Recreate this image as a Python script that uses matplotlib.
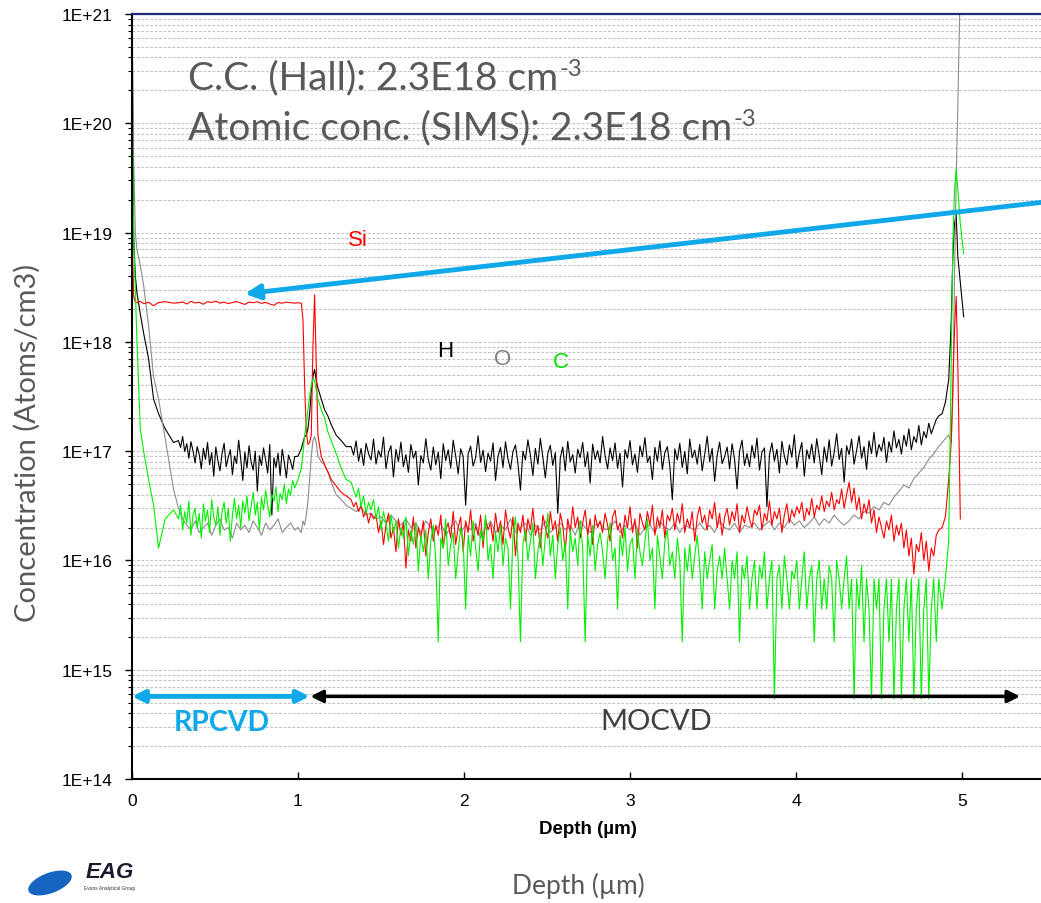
import numpy as np
import matplotlib
matplotlib.use("Agg")
import matplotlib.pyplot as plt
from matplotlib.ticker import FuncFormatter, LogLocator, NullFormatter
from matplotlib.patches import Ellipse

# ------------------------------------------------------------
# SIMS depth profile (unit 1E+16)
# ------------------------------------------------------------
depth_head = [0, 0.005, 0.01, 0.02, 0.03, 0.05, 0.07, 0.1, 0.13, 0.16, 0.2, 0.25]
depth_trans = [1.00, 1.02, 1.03, 1.04, 1.05, 1.06, 1.07, 1.08, 1.09, 1.10,
               1.11, 1.12, 1.14, 1.16, 1.18, 1.20, 1.23, 1.26, 1.29]
depth_tail = [4.88, 4.90, 4.92, 4.935, 4.945, 4.955, 4.965, 4.975, 4.99, 5.01]
# sampling of the two flat layers: coarse and fine
depth_rp = np.round(np.arange(0.28, 0.99, 0.025), 4)
depth_mo = np.round(np.arange(1.32, 4.87, 0.03), 4)
depth_rp_fine = np.round(np.arange(0.28, 0.985, 0.0125), 4)
depth_mo_fine = np.round(np.arange(1.32, 4.865, 0.015), 4)

# Si (red)
si_head = [1500, 500, 260, 232, 228, 235, 224, 230, 214, 229, 233, 226]
si_rp = [228, 232, 222, 235, 227, 230, 221, 233, 229, 236,
         226, 231, 224, 229, 234, 227, 220, 231, 228, 233,
         225, 230, 222, 216, 229, 226, 231, 228, 226]
si_trans = [228, 225, 160, 40, 15, 11.5, 12, 14, 90, 270,
            60, 14, 9, 7.5, 6.5, 5.5, 4.8, 4.2, 3.9]
si_mo = [3.6, 3.1, 3.4, 2.8, 3.2, 2.5, 2.9, 2.2, 2.7, 2.4,
         2.6, 1.8, 2.3, 1.4, 2.1, 2.7, 1.6, 2.0, 1.2, 2.4,
         1.7, 2.2, 0.85, 1.9, 1.5, 2.5, 1.3, 2.0, 1.6, 2.3,
         1.1, 1.8, 2.4, 1.5, 2.1, 1.7, 2.6, 1.3, 1.9, 2.2,
         1.6, 2.8, 1.4, 2.0, 2.5, 1.2, 2.3, 1.8, 2.9, 1.5,
         2.1, 1.7, 2.6, 1.3, 2.4, 1.9, 2.2, 1.5, 2.7, 1.8,
         2.3, 1.4, 2.9, 2.0, 1.6, 2.5, 1.1, 2.2, 1.8, 2.6,
         1.5, 2.4, 1.9, 3.0, 1.7, 2.1, 1.3, 2.6, 2.0, 1.6,
         2.8, 1.9, 2.3, 1.5, 2.7, 2.1, 1.2, 2.4, 1.8, 3.1,
         2.0, 2.5, 1.6, 2.2, 2.9, 1.7, 2.4, 1.4, 2.6, 2.0,
         2.3, 1.8, 2.7, 2.1, 1.5, 2.5, 2.9, 1.9, 2.2, 1.6,
         2.6, 2.0, 3.1, 1.8, 2.4, 1.3, 2.7, 2.2, 1.9, 2.8,
         2.1, 3.2, 1.7, 2.5, 2.0, 2.9, 1.6, 2.6, 2.3, 3.0,
         1.9, 2.7, 2.2, 3.3, 1.8, 2.4, 2.0, 2.8, 1.5, 2.5,
         3.1, 2.2, 2.6, 1.9, 2.9, 2.4, 3.4, 2.0, 2.7, 1.7,
         2.5, 3.0, 2.1, 2.8, 2.3, 3.3, 1.8, 2.6, 2.2, 3.1,
         2.4, 2.0, 2.9, 2.6, 3.2, 1.9, 2.7, 2.3, 3.5, 2.1,
         2.8, 2.4, 3.0, 1.8, 2.6, 3.3, 2.2, 2.9, 2.5, 3.1,
         2.7, 3.4, 2.3, 3.0, 2.6, 3.7, 2.5, 3.2, 2.9, 3.9,
         2.8, 3.5, 3.1, 4.2, 2.9, 3.6, 3.3, 4.5, 3.0, 4.0,
         5.2, 3.4, 4.6, 2.9, 3.8, 2.4, 3.3, 2.7, 3.6, 2.2,
         2.9, 1.8, 2.5, 2.0, 1.6, 2.3, 1.9, 2.6, 1.5, 2.1,
         1.7, 2.2, 1.3, 1.9, 1.1, 1.6, 0.75, 1.4, 1.2, 1.8,
         1.0, 1.5, 0.8, 1.3, 1.1, 1.7, 1.9]
si_tail = [2.0, 2.5, 5.5, 12, 40, 130, 260, 60, 2.4, np.nan]

# O (grey)
o_head = [100000, 30000, 5000, 1000, 700, 500, 330, 140, 48, 30, 13, 4.5]
o_rp = [3.0, 2.4, 2.1, 1.9, 2.3, 1.8, 2.0, 2.2, 1.7, 2.1,
        2.4, 1.9, 2.0, 1.6, 2.2, 1.9, 2.1, 1.8, 2.3, 2.0,
        1.7, 2.2, 1.9, 2.1, 2.4, 1.8, 2.0, 2.2, 1.9]
o_trans = [2.0, 1.8, 2.3, 2.1, 2.6, 3.5, 5.5, 9.0, 12.5, 13.5,
           12.0, 9.0, 8.0, 7.5, 6.4, 5.2, 4.0, 3.6, 3.2]
o_mo = [3.0, 2.8, 3.1, 2.6, 2.7, 2.4, 2.5, 2.2, 2.6, 2.3,
        2.1, 2.4, 2.0, 2.2, 1.8, 2.3, 2.0, 1.9, 2.2, 1.7,
        2.0, 2.3, 1.8, 2.1, 1.9, 2.2, 1.6, 2.0, 2.3, 1.8,
        2.1, 1.9, 2.4, 1.8, 2.0, 2.2, 1.7, 2.1, 1.9, 2.3,
        1.8, 2.0, 2.2, 1.9, 2.1, 1.7, 2.3, 2.0, 1.8, 2.1,
        2.2, 1.9, 2.0, 2.3, 1.8, 2.1, 1.9, 2.2, 1.7, 2.0,
        2.1, 1.8, 2.3, 2.0, 1.9, 2.2, 1.8, 2.1, 2.0, 1.9,
        2.2, 1.9, 2.1, 1.8, 2.3, 2.0, 1.9, 2.2, 1.8, 2.1,
        2.0, 2.2, 1.9, 2.1, 2.3, 1.9, 2.2, 2.0, 2.4, 2.1,
        2.3, 2.0, 2.2, 2.5, 2.1, 2.4, 2.2, 2.6, 2.3, 2.1,
        2.3, 2.6, 2.4, 2.8, 2.7, 3.1, 2.9, 3.4, 3.2, 3.8,
        4.3, 4.9, 4.6, 5.6, 6.3, 7.1, 8.4, 9.5, 11.0]
o_tail = [12, 13, 14, 12, 30, 400, 3000, 15000, 200000, 400000]

# H (black)
h_head = [100000, 8000, 900, 400, 280, 180, 120, 70, 30, 22, 16, 12]
h_rp = [12.5, 10.8, 13.6, 9.9, 11.7, 8.6, 12.2, 10.1, 7.8, 11.0,
        9.3, 6.9, 10.6, 8.4, 12.0, 7.5, 9.7, 5.9, 10.9, 8.2,
        6.6, 9.5, 11.8, 7.2, 8.8, 10.3, 6.1, 9.0, 7.7, 12.6,
        8.5, 5.4, 9.8, 7.0, 11.2, 8.0, 6.7, 10.0, 4.3, 9.1,
        7.4, 10.7, 8.3, 6.3, 11.5, 2.6, 8.7, 7.1, 9.6, 6.0,
        10.4, 7.9, 5.7, 9.2, 8.1, 6.8, 8.9]
h_trans = [9.0, 10.5, 12.0, 13.5, 14.0, 16.0, 22.0, 35.0, 48.0, 56.0,
           44.0, 38.0, 30.0, 24.0, 21.0, 17.5, 14.0, 12.5, 11.0]
h_mo = [11.0, 9.2, 12.4, 8.1, 10.6, 7.4, 11.8, 9.5, 8.3, 12.9,
        7.6, 10.1, 8.8, 13.4, 6.9, 9.7, 11.2, 5.8, 10.4, 8.0,
        12.1, 7.2, 9.3, 6.4, 11.5, 8.6, 10.0, 4.9, 9.1, 7.8,
        13.0, 8.4, 6.7, 10.9, 7.5, 9.8, 5.6, 11.7, 8.2, 10.3,
        7.0, 12.6, 9.0, 6.2, 10.5, 8.9, 3.2, 9.4, 11.1, 7.3,
        8.7, 13.8, 7.9, 10.2, 6.5, 9.6, 8.1, 11.9, 5.4, 9.0,
        10.8, 7.1, 12.2, 8.5, 6.8, 9.9, 11.4, 7.7, 4.4, 10.0,
        8.3, 12.7, 9.2, 6.0, 10.6, 7.6, 13.1, 8.8, 5.7, 9.5,
        11.3, 7.4, 9.7, 2.7, 8.6, 10.9, 6.6, 12.3, 8.0, 9.3,
        6.3, 10.4, 8.7, 12.0, 7.2, 9.8, 5.1, 11.6, 8.4, 10.1,
        7.8, 13.6, 9.1, 6.9, 10.7, 8.2, 11.9, 7.0, 9.6, 4.7,
        10.3, 8.6, 12.5, 7.5, 9.4, 6.4, 11.2, 8.9, 13.3, 7.9,
        9.0, 5.5, 10.8, 8.1, 12.4, 6.8, 9.7, 11.0, 7.3, 3.6,
        10.5, 8.3, 11.8, 7.1, 9.9, 6.2, 12.9, 8.7, 10.2, 7.6,
        11.5, 6.6, 9.3, 13.7, 8.0, 10.6, 5.3, 9.1, 12.1, 7.7,
        8.9, 10.9, 6.9, 11.7, 8.4, 4.5, 10.0, 12.6, 7.4, 9.5,
        7.2, 11.3, 8.6, 13.2, 6.7, 9.8, 10.7, 3.1, 9.2, 11.9,
        8.1, 10.4, 6.3, 12.3, 9.0, 7.5, 11.4, 8.8, 14.1, 7.0,
        9.6, 12.0, 5.9, 10.3, 8.5, 11.6, 7.8, 13.0, 9.1, 6.1,
        10.9, 8.0, 12.7, 7.3, 9.7, 14.4, 8.4, 10.6, 5.2, 11.2,
        9.3, 12.9, 7.6, 10.1, 13.8, 8.6, 11.0, 6.8, 12.4, 9.5,
        14.9, 8.9, 11.5, 10.0, 13.4, 7.9, 12.2, 9.8, 15.3, 10.7,
        12.8, 9.4, 14.0, 11.1, 16.0, 10.3, 13.6, 12.0, 17.2, 11.4,
        15.1, 13.2, 18.0, 14.4, 16.8, 19.5, 21.0]
h_tail = [22, 28, 45, 150, 600, 1200, 1500, 600, 350, 170]

# C (green)
c_head = [20000, 4000, 900, 300, 100, 16, 10, 5.5, 3.2, 1.3, 2.4, 2.9]
c_rp = [2.4, 3.2, 1.9, 2.8, 2.2, 3.5, 1.7, 2.6, 3.0, 2.0,
        2.7, 1.6, 3.3, 2.3, 2.9, 1.8, 3.6, 2.5, 2.1, 3.1,
        1.7, 2.8, 3.4, 2.2, 3.0, 1.5, 2.6, 3.7, 2.4, 3.2,
        2.0, 3.5, 2.7, 3.9, 2.3, 3.1, 4.2, 2.6, 3.4, 1.9,
        3.8, 2.9, 4.4, 3.2, 2.5, 4.0, 3.5, 4.7, 2.8, 4.1,
        3.6, 5.0, 3.3, 4.5, 3.9, 5.4, 4.6]
c_trans = [5.5, 7.0, 9.5, 14.0, 18.0, 24.0, 32.0, 40.0, 46.0, 44.0,
           36.0, 30.0, 24.0, 20.0, 15.0, 12.5, 9.5, 7.0, 5.5]
c_mo = [5.2, 4.4, 3.8, 4.6, 3.1, 3.9, 2.7, 3.4, 2.9, 3.6,
        2.4, 3.1, 1.9, 2.8, 2.2, 1.5, 2.6, 1.8, 2.3, 1.3,
        2.0, 1.6, 2.5, 1.1, 1.9, 1.4, 2.2, 0.8, 1.7, 1.2,
        1.9, 0.68, 1.5, 2.1, 1.0, 0.18, 1.6, 1.3, 2.4, 0.9,
        1.4, 1.8, 0.68, 1.2, 2.0, 1.5, 0.36, 1.7, 1.1, 2.3,
        1.3, 0.8, 1.9, 1.5, 2.6, 1.0, 1.4, 0.68, 1.8, 1.2,
        2.1, 0.9, 1.6, 1.3, 0.36, 1.7, 2.5, 1.1, 0.18, 1.4,
        1.9, 1.0, 1.5, 2.2, 0.68, 1.2, 1.8, 0.9, 1.6, 2.7,
        1.1, 1.7, 0.68, 1.4, 2.0, 1.0, 1.5, 0.36, 1.9, 1.2,
        1.6, 0.9, 2.3, 1.3, 0.18, 1.7, 1.1, 2.1, 0.8, 1.4,
        1.8, 1.2, 0.68, 1.5, 2.2, 1.0, 1.3, 0.36, 1.7, 1.1,
        2.0, 0.8, 1.4, 1.6, 0.68, 1.9, 1.2, 0.9, 1.5, 2.4,
        1.0, 1.3, 0.36, 1.7, 1.1, 0.68, 1.5, 1.9, 0.9, 1.2,
        0.68, 1.6, 1.0, 0.18, 1.3, 0.8, 1.4, 0.68, 1.1, 1.7,
        0.9, 0.36, 1.2, 0.68, 1.0, 1.4, 0.36, 0.8, 1.1, 0.68,
        1.3, 0.68, 0.36, 1.0, 0.68, 1.2, 0.18, 0.9, 0.68, 1.1,
        0.36, 0.68, 1.0, 0.36, 0.9, 0.68, 1.2, 0.36, 0.68, 1.0,
        0.054, 0.68, 0.9, 0.36, 1.1, 0.68, 0.36, 0.8, 0.68, 1.0,
        0.36, 0.68, 1.2, 0.36, 0.68, 0.9, 0.18, 0.68, 1.0, 0.36,
        0.68, 0.36, 0.9, 0.68, 0.18, 1.0, 0.68, 0.36, 0.68, 1.1,
        0.36, 0.68, 0.054, 0.68, 0.36, 0.9, 0.18, 0.68, 0.36, 0.054,
        0.68, 0.36, 0.68, 0.054, 0.36, 0.68, 0.18, 0.68, 0.054, 0.36,
        0.68, 0.054, 0.36, 0.68, 0.18, 0.68, 0.054, 0.36, 0.68, 0.054,
        0.36, 0.68, 0.054, 0.36, 0.68, 0.18, 0.68]
c_tail = [0.36, 0.68, 1.5, 60, 800, 2500, 3800, 2500, 1200, 640]

depth_coarse = np.concatenate([depth_head, depth_rp, depth_trans, depth_mo, depth_tail])
depth_mixed = np.concatenate([depth_head, depth_rp, depth_trans, depth_mo_fine, depth_tail])
depth_fine = np.concatenate([depth_head, depth_rp_fine, depth_trans, depth_mo_fine, depth_tail])

series = [
    ("H", depth_fine, h_head + h_rp + h_trans + h_mo + h_tail, "black"),
    ("O", depth_coarse, o_head + o_rp + o_trans + o_mo + o_tail, "#8c8c8c"),
    ("Si", depth_mixed, si_head + si_rp + si_trans + si_mo + si_tail, "#ff0000"),
    ("C", depth_fine, c_head + c_rp + c_trans + c_mo + c_tail, "#00f000"),
]

W, H = 1041, 904
BLUE = "#0fa8e8"
GREY_TXT = "#595959"


def fx(px):
    return px / W


def fy(py):
    return 1 - py / H


fig = plt.figure(figsize=(W / 100, H / 100), dpi=100)
ax = fig.add_axes([fx(132), fy(780), 1 - fx(132), (780 - 15) / H])

for name, d, vals, col in series:
    ax.plot(d, np.array(vals, dtype=float) * 1e16, color=col, lw=0.8)

ax.set_yscale("log")
ax.set_ylim(1e14, 1e21)
ax.set_xlim(0, 5.476)

ax.yaxis.set_major_locator(LogLocator(base=10, numticks=10))
ax.yaxis.set_minor_locator(LogLocator(base=10, subs=np.arange(2, 10), numticks=100))
ax.yaxis.set_minor_formatter(NullFormatter())
ax.yaxis.set_major_formatter(FuncFormatter(lambda v, p: "1E+%d" % round(np.log10(v))))
ax.set_xticks([0, 1, 2, 3, 4, 5])

ax.tick_params(axis="y", which="major", direction="out", length=5, width=1,
               labelsize=12.5, pad=9)
ax.tick_params(axis="y", which="minor", direction="out", length=3, width=0.8)
ax.tick_params(axis="x", which="major", direction="in", length=5, width=1,
               labelsize=12.5, pad=10)
for lab in ax.get_xticklabels() + ax.get_yticklabels():
    lab.set_fontfamily("Liberation Sans")

ax.set_axisbelow(True)
ax.yaxis.grid(True, which="both", color="#c4c4c4", lw=0.8, linestyle=(0, (2.5, 1.5)))

ax.spines["right"].set_visible(False)
ax.spines["top"].set_color("#1f2a78")
ax.spines["top"].set_linewidth(1.6)
ax.spines["left"].set_linewidth(1.5)
ax.spines["bottom"].set_linewidth(1.5)

# Arrows
ax.annotate("", xy=(0.68, 2.75e18), xytext=(5.62, 2.0e19),
            arrowprops=dict(arrowstyle="-|>", color=BLUE, lw=3.5,
                            mutation_scale=22, shrinkA=0, shrinkB=0),
            annotation_clip=False)
ax.annotate("", xy=(0.0, 5.7e14), xytext=(1.07, 5.7e14),
            arrowprops=dict(arrowstyle="<|-|>", color=BLUE, lw=3.5,
                            mutation_scale=18, shrinkA=0, shrinkB=0),
            annotation_clip=False)
ax.annotate("", xy=(1.075, 5.7e14), xytext=(5.35, 5.7e14),
            arrowprops=dict(arrowstyle="<|-|>", color="black", lw=2.5,
                            mutation_scale=18, shrinkA=0, shrinkB=0),
            annotation_clip=False)

# Series labels
for txt, x, y, col in [("Si", 358, 241, "#ff0000"), ("H", 445, 352, "black"),
                       ("O", 503, 360, "#808080"), ("C", 561, 362, "#00e000")]:
    fig.text(fx(x), fy(y), txt, color=col, fontsize=16, family="Liberation Sans",
             ha="center", va="center")

# Big grey notes
t1 = fig.text(fx(188), fy(89), "C.C. (Hall): 2.3E18 cm", color=GREY_TXT,
              fontsize=28, family="Lato", ha="left", va="baseline")
t2 = fig.text(fx(188), fy(139), "Atomic conc. (SIMS): 2.3E18 cm", color=GREY_TXT,
              fontsize=28, family="Lato", ha="left", va="baseline")
fig.canvas.draw()
rend = fig.canvas.get_renderer()
for t, base in [(t1, 89), (t2, 139)]:
    bb = t.get_window_extent(rend)
    fig.text(bb.x1 / W + 0.001, fy(base - 13), "-3", color=GREY_TXT,
             fontsize=17, family="Lato", ha="left", va="baseline")

fig.text(fx(222), fy(723), "RPCVD", color=BLUE, fontsize=20.5, family="Lato",
         fontweight="bold", ha="center", va="center")
fig.text(fx(656), fy(722), "MOCVD", color="#404040", fontsize=21, family="Lato",
         ha="center", va="center")

# Axis titles
fig.text(fx(588), fy(830), "Depth (µm)", fontsize=13.5, fontweight="bold",
         family="Liberation Sans", ha="center", va="center")
fig.text(fx(578), fy(886), "Depth (µm)", color=GREY_TXT, fontsize=19, family="Lato",
         ha="center", va="center")
fig.text(fx(27), fy(443), "Concentration (Atoms/cm3)", color=GREY_TXT, fontsize=21,
         family="Lato", rotation=90, ha="center", va="center")

# EAG logo (rough)
fig.patches.append(Ellipse((fx(50), fy(884)), 0.045, 0.022, angle=25,
                           transform=fig.transFigure, facecolor="#1565c0",
                           edgecolor="none"))
fig.text(fx(110), fy(878), "EAG", fontsize=16, fontweight="bold", style="italic",
         color="#1a1a2e", family="Liberation Sans", ha="center", va="baseline")
fig.text(fx(110), fy(886), "Evans Analytical Group", fontsize=3.5, color="#333333",
         family="Liberation Sans", ha="center", va="top")

fig.savefig("out.png", dpi=100)
